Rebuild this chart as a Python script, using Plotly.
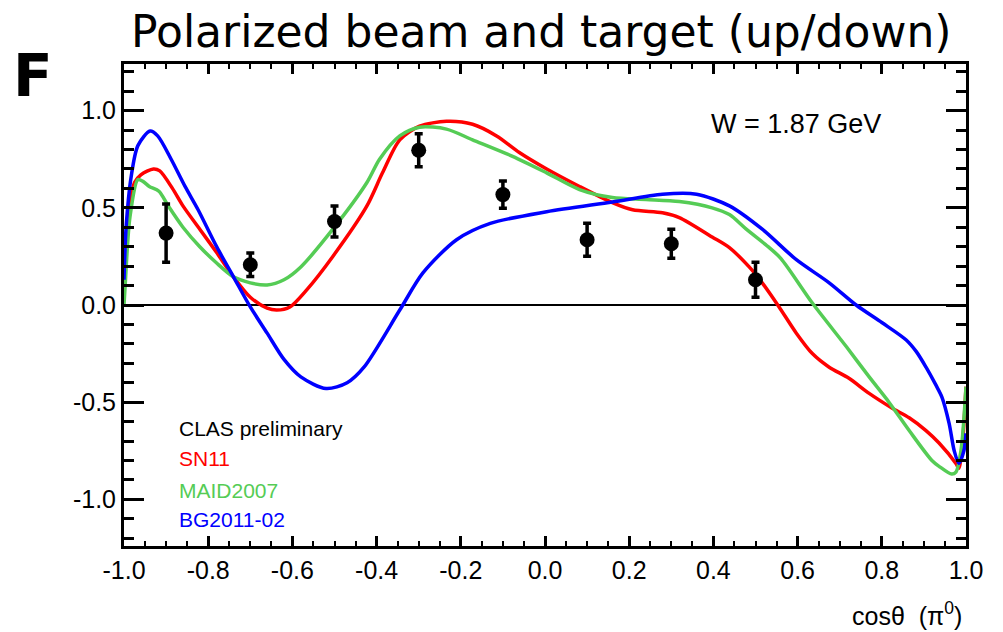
import plotly.graph_objects as go

# ---------------- data ----------------
data_x = [-0.9, -0.7, -0.5, -0.3, -0.1, 0.1, 0.3, 0.5]
data_y = [0.37, 0.207, 0.43, 0.796, 0.568, 0.336, 0.315, 0.13]
data_err = [0.15, 0.06, 0.08, 0.085, 0.07, 0.085, 0.075, 0.09]

sn11_x = [-1.0, -0.995, -0.988, -0.975, -0.96, -0.93, -0.915, -0.885, -0.86, -0.82,
          -0.78, -0.74, -0.70, -0.66, -0.637, -0.606, -0.566, -0.504, -0.423, -0.386,
          -0.345, -0.298, -0.234, -0.172, -0.115, -0.061, 0.004, 0.082, 0.160, 0.208,
          0.279, 0.319, 0.397, 0.438, 0.485, 0.516, 0.556, 0.597, 0.635, 0.675,
          0.722, 0.770, 0.824, 0.865, 0.905, 0.936, 0.976, 0.983, 0.992, 1.0]
sn11_y = [0.05, 0.30, 0.50, 0.63, 0.67, 0.70, 0.69, 0.60, 0.51, 0.39,
          0.27, 0.145, 0.04, -0.016, -0.026, -0.01, 0.078, 0.25, 0.51, 0.68,
          0.85, 0.92, 0.945, 0.93, 0.87, 0.785, 0.70, 0.61, 0.527, 0.49,
          0.475, 0.45, 0.35, 0.295, 0.196, 0.114, -0.01, -0.145, -0.25, -0.32,
          -0.377, -0.455, -0.53, -0.58, -0.646, -0.71, -0.815, -0.84, -0.70, -0.42]

maid_x = [-1.0, -0.997, -0.986, -0.967, -0.955, -0.94, -0.917, -0.895, -0.86, -0.82,
          -0.78, -0.74, -0.70, -0.66, -0.62, -0.58, -0.504, -0.423, -0.393, -0.345,
          -0.298, -0.234, -0.172, -0.077, 0.004, 0.082, 0.160, 0.240, 0.319, 0.397,
          0.438, 0.478, 0.530, 0.560, 0.635, 0.716, 0.770, 0.817, 0.865, 0.919,
          0.936, 0.966, 0.976, 0.988, 1.0]
maid_y = [0.0, 0.11, 0.45, 0.645, 0.636, 0.61, 0.585, 0.51, 0.40, 0.30,
          0.216, 0.145, 0.114, 0.103, 0.13, 0.196, 0.39, 0.63, 0.75, 0.87,
          0.915, 0.905, 0.85, 0.765, 0.68, 0.594, 0.553, 0.543, 0.532, 0.50,
          0.465, 0.39, 0.30, 0.24, 0.01, -0.215, -0.37, -0.50, -0.646, -0.80,
          -0.83, -0.87, -0.86, -0.75, -0.42]

bg_x = [-1.0, -0.995, -0.983, -0.967, -0.938, -0.92, -0.888, -0.855, -0.824, -0.78,
        -0.74, -0.70, -0.66, -0.62, -0.58, -0.52, -0.47, -0.43, -0.345, -0.29,
        -0.21, -0.13, 0.004, 0.16, 0.279, 0.36, 0.438, 0.516, 0.597, 0.675,
        0.739, 0.80, 0.858, 0.882, 0.905, 0.928, 0.943, 0.960, 0.972, 0.983, 0.995, 1.0]
bg_y = [0.13, 0.40, 0.66, 0.82, 0.895, 0.87, 0.75, 0.61, 0.49, 0.30,
        0.145, -0.01, -0.145, -0.28, -0.37, -0.43, -0.40, -0.32, -0.026, 0.165,
        0.336, 0.42, 0.48, 0.53, 0.57, 0.57, 0.51, 0.39, 0.233, 0.114,
        0.0, -0.09, -0.18, -0.24, -0.32, -0.41, -0.475, -0.61, -0.75, -0.815, -0.75, -0.66]

x_tickvals = [-1.0, -0.8, -0.6, -0.4, -0.2, 0.0, 0.2, 0.4, 0.6, 0.8, 1.0]
x_ticktext = ["-1.0", "-0.8", "-0.6", "-0.4", "-0.2", "0.0", "0.2", "0.4", "0.6", "0.8", "1.0"]
y_tickvals = [-1.0, -0.5, 0.0, 0.5, 1.0]
y_ticktext = ["-1.0", "-0.5", "0.0", "0.5", "1.0"]

legend_labels = ["CLAS preliminary", "SN11", "MAID2007", "BG2011-02"]
legend_colors = ["black", "#ff0000", "#55cc55", "#0000ff"]
legend_y = [-0.636, -0.79, -0.956, -1.106]

title_text = "Polarized beam and target (up/down)"
w_text = "W = 1.87 GeV"

# ---------------- figure ----------------
FONT = "Liberation Sans, Arial, sans-serif"
W, H = 1003, 632
L, R, T, B = 124, 37, 64, 86
PW, PH = W - L - R, H - T - B


def px(xp):
    return (xp - L) / PW


def py(yp):
    return (H - B - yp) / PH


fig = go.Figure()

for xs, ys, col in [(sn11_x, sn11_y, "#ff0000"),
                    (maid_x, maid_y, "#55cc55"),
                    (bg_x, bg_y, "#0000ff")]:
    fig.add_trace(go.Scatter(x=xs, y=ys, mode="lines",
                             line=dict(color=col, width=3.5, shape="spline", smoothing=0.8),
                             showlegend=False, hoverinfo="skip"))

fig.add_trace(go.Scatter(
    x=data_x, y=data_y, mode="markers",
    marker=dict(color="black", size=15),
    error_y=dict(type="data", array=data_err, color="black", thickness=3.5, width=4),
    showlegend=False))

for lab, col, ly in zip(legend_labels, legend_colors, legend_y):
    fig.add_annotation(x=-0.872, y=ly, xref="x", yref="y", text=lab, showarrow=False,
                       xanchor="left", yanchor="middle", borderpad=0,
                       font=dict(family=FONT, size=21, color=col))

fig.add_annotation(x=0.393, y=0.93, xref="x", yref="y", text=w_text, showarrow=False,
                   xanchor="left", yanchor="middle", borderpad=0,
                   font=dict(family=FONT, size=27, color="black"))

fig.add_annotation(x=px(541), y=py(31), xref="paper", yref="paper", text=title_text,
                   showarrow=False, xanchor="center", yanchor="middle", borderpad=0,
                   font=dict(family="DejaVu Sans", size=44, color="black"))
fig.add_annotation(x=px(33), y=py(76), xref="paper", yref="paper", text="<b>F</b>",
                   showarrow=False, xanchor="center", yanchor="middle",
                   font=dict(family="DejaVu Sans", size=58, color="black"))
fig.add_annotation(x=px(963), y=py(614), xref="paper", yref="paper",
                   text="cosθ  (π<sup>0</sup>)", showarrow=False, xanchor="right", yanchor="middle",
                   borderpad=0, font=dict(family=FONT, size=25, color="black"))

axis_common = dict(showline=True, linecolor="black", linewidth=3, mirror="ticks",
                   ticks="inside", tickcolor="black", tickwidth=3, showgrid=False,
                   automargin=False,
                   tickfont=dict(family=FONT, size=25, color="black"))

fig.update_xaxes(range=[-1.0, 1.0], tickmode="array", tickvals=x_tickvals, ticktext=x_ticktext,
                 ticklen=10, zeroline=False,
                 minor=dict(ticks="inside", tickmode="linear", tick0=0, dtick=0.05,
                            ticklen=5, tickwidth=2, tickcolor="black", showgrid=False),
                 **axis_common)
fig.update_yaxes(range=[-1.24, 1.24], tickmode="array", tickvals=y_tickvals, ticktext=y_ticktext,
                 ticklen=20, zeroline=True, zerolinecolor="black", zerolinewidth=2,
                 minor=dict(ticks="inside", tickmode="linear", tick0=0, dtick=0.1,
                            ticklen=10, tickwidth=3, tickcolor="black", showgrid=False),
                 **axis_common)

fig.update_layout(
    width=W, height=H,
    margin=dict(l=L, r=R, t=T, b=B, autoexpand=False),
    paper_bgcolor="white", plot_bgcolor="white",
    showlegend=False,
)

fig.write_html("out.html", config={"displayModeBar": False},
               post_script="document.body.style.margin='0px';document.body.style.overflow='hidden';")
